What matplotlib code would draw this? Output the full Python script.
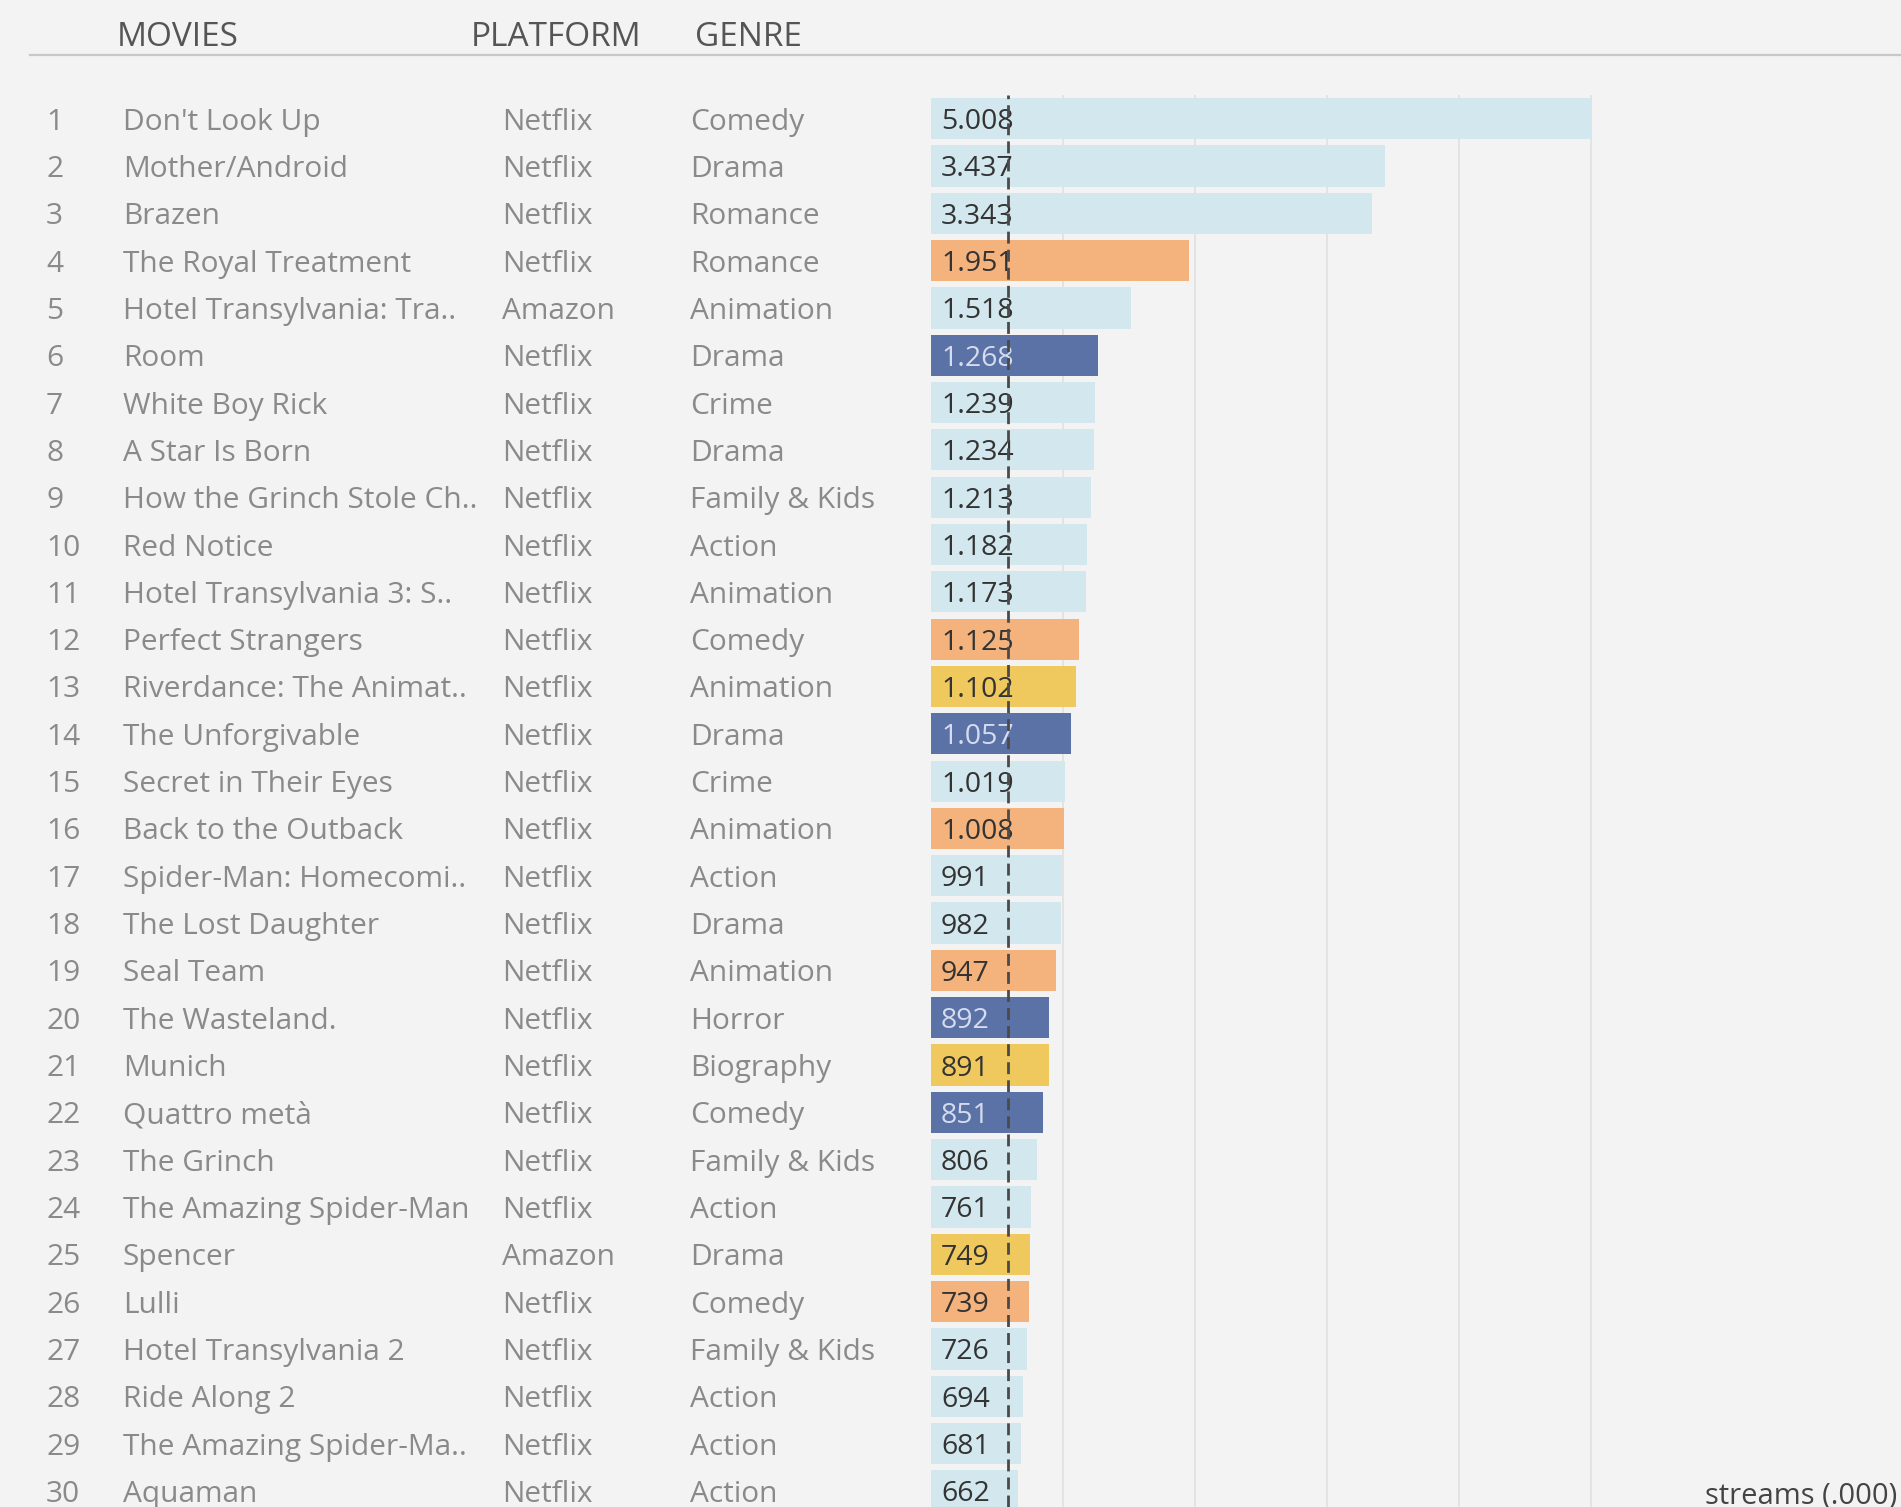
import matplotlib.pyplot as plt
from matplotlib.transforms import blended_transform_factory

# data
titles = ["Don't Look Up", "Mother/Android", "Brazen", "The Royal Treatment",
          "Hotel Transylvania: Tra..", "Room", "White Boy Rick", "A Star Is Born",
          "How the Grinch Stole Ch..", "Red Notice", "Hotel Transylvania 3: S..",
          "Perfect Strangers", "Riverdance: The Animat..", "The Unforgivable",
          "Secret in Their Eyes", "Back to the Outback", "Spider-Man: Homecomi..",
          "The Lost Daughter", "Seal Team", "The Wasteland.", "Munich",
          "Quattro metà", "The Grinch", "The Amazing Spider-Man", "Spencer",
          "Lulli", "Hotel Transylvania 2", "Ride Along 2",
          "The Amazing Spider-Ma..", "Aquaman"]
platforms = ["Netflix", "Netflix", "Netflix", "Netflix", "Amazon", "Netflix",
             "Netflix", "Netflix", "Netflix", "Netflix", "Netflix", "Netflix",
             "Netflix", "Netflix", "Netflix", "Netflix", "Netflix", "Netflix",
             "Netflix", "Netflix", "Netflix", "Netflix", "Netflix", "Netflix",
             "Amazon", "Netflix", "Netflix", "Netflix", "Netflix", "Netflix"]
genres = ["Comedy", "Drama", "Romance", "Romance", "Animation", "Drama", "Crime",
          "Drama", "Family & Kids", "Action", "Animation", "Comedy", "Animation",
          "Drama", "Crime", "Animation", "Action", "Drama", "Animation", "Horror",
          "Biography", "Comedy", "Family & Kids", "Action", "Drama", "Comedy",
          "Family & Kids", "Action", "Action", "Action"]
streams = [5008, 3437, 3343, 1951, 1518, 1268, 1239, 1234, 1213, 1182, 1173,
           1125, 1102, 1057, 1019, 1008, 991, 982, 947, 892, 891, 851, 806,
           761, 749, 739, 726, 694, 681, 662]
highlight = ["base", "base", "base", "orange", "base", "navy", "base", "base",
             "base", "base", "base", "orange", "yellow", "navy", "base", "orange",
             "base", "base", "orange", "navy", "yellow", "navy", "base", "base",
             "yellow", "orange", "base", "base", "base", "base"]
ref_value = 585
gridlines = [1000, 2000, 3000, 4000, 5000]

colors = {'base': '#d3e8ee', 'orange': '#f4b27c', 'yellow': '#efc95e',
          'navy': '#5b72a7'}
bg = '#f3f3f3'

plt.rcParams['font.family'] = ['Open Sans', 'DejaVu Sans']

W, H = 1901, 1507
fig = plt.figure(figsize=(W / 100, H / 100), dpi=100, facecolor=bg)
ax = fig.add_axes([931 / W, 0, 1 - 931 / W, (H - 95) / H])
ax.set_facecolor(bg)

rows = list(range(len(streams)))
ax.barh(rows, streams, height=0.87, color=[colors[h] for h in highlight],
        zorder=2)
for g in gridlines:
    ax.axvline(g, color='#e0e0e0', lw=1.2, zorder=1)
ax.axvline(ref_value, color='#4a4a4a', lw=2.0, linestyle=(0, (4.3, 2.2)),
           zorder=4)

ax.set_xlim(0, (W - 931) / 0.13199)
ax.set_ylim(29.34, -0.5)
ax.axis('off')

# table columns
tr = blended_transform_factory(fig.transFigure, ax.transData)
row_kw = dict(transform=tr, va='center_baseline', fontsize=21.5, color='#8a8a8a')
for i in rows:
    ax.text(46 / W, i, str(i + 1), **row_kw)
    ax.text(123 / W, i, titles[i], **row_kw)
    ax.text(502 / W, i, platforms[i], **row_kw)
    ax.text(690 / W, i, genres[i], **row_kw)
    lbl = f"{streams[i]:,}".replace(',', '.')
    tc = '#d6dcef' if highlight[i] == 'navy' else '#333333'
    ax.text(941 / W, i, lbl, transform=tr, va='center_baseline',
            fontsize=20.5, color=tc, zorder=3)

# header
head_kw = dict(fontsize=24, color='#555555', va='baseline')
fig.text(117 / W, 1 - 46 / H, "MOVIES", **head_kw)
fig.text(471 / W, 1 - 46 / H, "PLATFORM", **head_kw)
fig.text(695 / W, 1 - 46 / H, "GENRE", **head_kw)
fig.add_artist(plt.Line2D([30 / W, 1], [1 - 55 / H, 1 - 55 / H],
                          transform=fig.transFigure, color='#c8c8c8', lw=1.6))

fig.text(1897 / W, 1 - 1503 / H, "streams (.000)", fontsize=21,
         color='#444444', va='baseline', ha='right')

fig.savefig('out.png', dpi=100, facecolor=bg)
